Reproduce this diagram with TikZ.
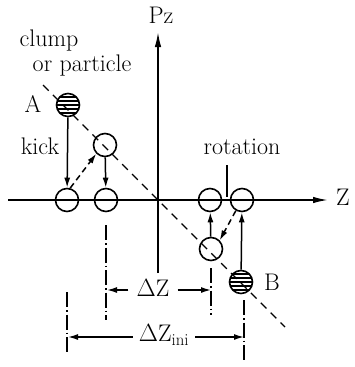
\documentclass[tikz,border=0pt]{standalone}
\usepackage{fontspec}
\usetikzlibrary{arrows.meta}
\begin{document}
\begin{tikzpicture}[x=1pt,y=-1pt,
  every node/.style={font=\fontsize{24}{27}\selectfont, inner sep=0pt},
  ball/.style={circle, draw, line width=1.6pt, minimum size=23pt},
  hatched/.style={path picture={
    \foreach \h in {-8,-4,...,8}
      \draw[line width=1.6pt] ([xshift=-14pt,yshift=\h pt]path picture bounding box.center) -- ++(28pt,0);}},
  solidline/.style={line width=1.5pt},
  arr/.style={line width=1.5pt, -{Latex[length=10pt,width=6pt]}},
  darr/.style={arr, dash pattern=on 6pt off 4pt},
  axis/.style={line width=1.6pt, -{Latex[length=15pt,width=6.5pt]}},
  diag/.style={line width=1.4pt, dash pattern=on 8pt off 6pt},
  dashdot/.style={line width=1.3pt, dash pattern=on 15pt off 3pt on 1.5pt off 3pt}
]
\useasboundingbox (0,0) rectangle (354,367);

% axes
\coordinate (zs) at (8,200);
\coordinate (ze) at (328,200);
\coordinate (ps) at (158,273);
\coordinate (pe) at (158,32);
\draw[axis] (zs) -- (ze);
\draw[axis] (ps) -- (pe);
\node (zl) at (343,197) {Z};
\node (pl) at (161,15) {Pz};

% diagonal
\coordinate (d1) at (43,85);
\coordinate (d2) at (285,327);
\draw[diag] (d1) -- (d2);

% circles
\node[ball,hatched] (A) at (68,105) {};
\node[ball] (C2) at (105,145) {};
\node[ball] (L1) at (67,200) {};
\node[ball] (L2) at (106,200) {};
\node[ball] (R1) at (210,200) {};
\node[ball] (R2) at (242,200) {};
\node[ball] (D) at (211,249) {};
\node[ball,hatched] (B) at (241,282) {};

% labels
\node (clump) at (49,41) {clump};
\node (orp) at (82,66) {or particle};
\node (la) at (33,104) {A};
\node (kick) at (40,146) {kick};
\node (rot) at (242,147) {rotation};
\node (lb) at (272,282) {B};

% arrows
\draw[arr] (A) -- (L1);
\draw[darr] (L1.75) -- (C2.225);
\draw[arr] (C2) -- (L2);
\draw[arr] (D) -- (R1);
\draw[darr] (R2.240) -- (D.45);
\draw[arr] (B) -- (R2);

% rotation tick
\coordinate (rt1) at (227,165);
\coordinate (rt2) at (227,197);
\draw[solidline] (rt1) -- (rt2);

% dash-dot verticals
\coordinate (v1a) at (106,225); \coordinate (v1b) at (106,320);
\coordinate (v0a) at (67,292);  \coordinate (v0b) at (67,355);
\coordinate (v2a) at (211,268); \coordinate (v2b) at (211,315);
\coordinate (v3a) at (244,300); \coordinate (v3b) at (244,360);
\draw[dashdot] (v1a) -- (v1b);
\draw[dashdot] (v0a) -- (v0b);
\draw[dashdot] (v2a) -- (v2b);
\draw[dashdot] (v3a) -- (v3b);

% dimensions
\node (dz) at (153,288) {$\Delta$Z};
\coordinate (dzl) at (107,290);
\coordinate (dzr) at (211,290);
\draw[arr] ([xshift=-8pt]dz.west |- dzl) -- (dzl);
\draw[arr] ([xshift=8pt]dz.east |- dzr) -- (dzr);

\node (dzi) at (164,335) {$\Delta$Z\textsubscript{ini}};
\coordinate (dil) at (68,337);
\coordinate (dir) at (244,337);
\draw[arr] ([xshift=-6pt]dzi.west |- dil) -- (dil);
\draw[arr] ([xshift=6pt]dzi.east |- dir) -- (dir);
\end{tikzpicture}
\end{document}
